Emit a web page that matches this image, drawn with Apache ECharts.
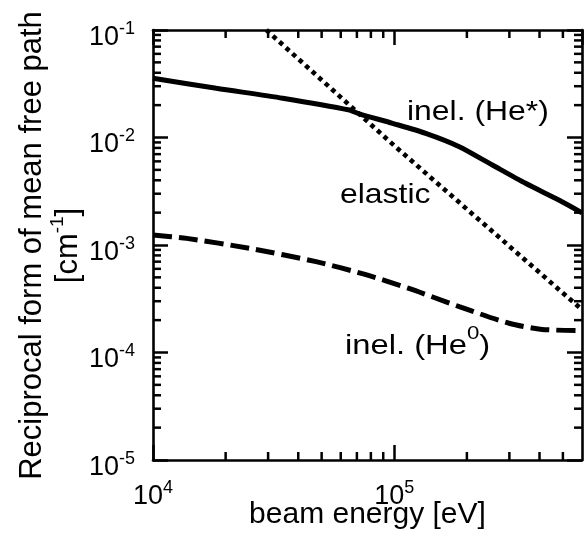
<!DOCTYPE html>
<html><head><meta charset="utf-8">
<script src="https://cdn.jsdelivr.net/npm/echarts@6/dist/echarts.min.js"></script>
<style>html,body{margin:0;padding:0;background:#fff}#c{width:586px;height:540px}</style>
</head><body><div id="c"></div>
<script>
// ---- data ----
const inelHeStarE = [1e4, 1.83e4, 3.45e4, 6.52e4, 7.16e4, 9.84e4, 1.35e5, 1.86e5, 2.55e5, 3.5e5, 4.81e5, 6e5];
const inelHeStarV = [0.0356, 0.0287, 0.0232, 0.0180, 0.0166, 0.01355, 0.01094, 0.00822, 0.00555, 0.00375, 0.00262, 0.00199];
const elasticE = [2.95e4, 1e5, 6e5];
const elasticV = [0.1, 0.0084, 2.5e-4];
const inelHe0E = [1e4, 1.38e4, 2.52e4, 4.74e4, 7.5e4, 1.15e5, 1.86e5, 2.99e5, 4.1e5, 6e5];
const inelHe0V = [1.24e-3, 1.153e-3, 9.3e-4, 7.0e-4, 5.35e-4, 3.95e-4, 2.67e-4, 1.87e-4, 1.64e-4, 1.6e-4];
const xMin = 1e4, xMax = 6e5, yMin = 1e-5, yMax = 1e-1;
const xMinorTicks = [2e4,3e4,4e4,5e4,6e4,7e4,8e4,9e4,2e5,3e5,4e5,5e5];
const yMinorTicks = [];
[1e-5,1e-4,1e-3,1e-2].forEach(d => { for (let k = 2; k <= 9; k++) yMinorTicks.push(k*d); });
const labelInelStar = 'inel. (He*)';
const labelElastic = 'elastic';
const labelInel0 = ['inel. (He', '0', ')'];
const xTitle = 'beam energy [eV]';
const yTitle = ['Reciprocal form of mean free path', '[cm', '-1', ']'];

// ---- chart ----
const FONT = '"Liberation Sans", Arial, Helvetica, sans-serif';
const zip = (a, b) => a.map((v, i) => [v, b[i]]);
function supLabel(v) {
  const l = Math.log10(v), e = Math.round(l);
  if (Math.abs(l - e) > 1e-6) return '';
  return '{b|10}{s|' + e + '}';
}
const tickRich = {
  b: {fontSize: 27, lineHeight: 31, verticalAlign: 'bottom', fontFamily: FONT, color: '#000'},
  s: {fontSize: 18, lineHeight: 18, verticalAlign: 'top', fontFamily: FONT, color: '#000'}
};
const MAJOR = 15, MINOR = 8, TW = 2.5;
function axisBase(extra) {
  return Object.assign({
    type: 'log', logBase: 10,
    axisLine: {show: true, onZero: false, lineStyle: {color: '#000', width: 2.6}},
    axisTick: {show: true, inside: true, length: MAJOR, lineStyle: {color: '#000', width: TW}},
    splitLine: {show: false}, minorTick: {show: false}, minorSplitLine: {show: false},
    nameMoveOverlap: false
  }, extra);
}
function minorSeries(axis, values) {
  return {
    type: 'custom', silent: true, clip: false, z: 5, xAxisIndex: 0, yAxisIndex: 0,
    data: values.map(v => axis === 'x' ? [v, 1e-3] : [1e5, v]),
    renderItem(params, api) {
      const cs = params.coordSys;
      const p = api.coord([api.value(0), api.value(1)]);
      const style = {stroke: '#000', lineWidth: TW};
      if (axis === 'x') {
        const yb = cs.y + cs.height, yt = cs.y;
        return {type: 'group', children: [
          {type: 'line', shape: {x1: p[0], y1: yb, x2: p[0], y2: yb - MINOR}, style},
          {type: 'line', shape: {x1: p[0], y1: yt, x2: p[0], y2: yt + MINOR}, style}
        ]};
      }
      const xl = cs.x, xr = cs.x + cs.width;
      return {type: 'group', children: [
        {type: 'line', shape: {x1: xl, y1: p[1], x2: xl + MINOR, y2: p[1]}, style},
        {type: 'line', shape: {x1: xr, y1: p[1], x2: xr - MINOR, y2: p[1]}, style}
      ]};
    }
  };
}
const chart = echarts.init(document.getElementById('c'), null, {renderer: 'canvas'});
chart.setOption({
  animation: false,
  backgroundColor: '#fff',
  grid: {left: 153, right: 4, top: 30, bottom: 80, containLabel: false, outerBoundsMode: 'none'},
  xAxis: [
    axisBase({position: 'bottom', min: xMin, max: xMax,
      axisLabel: {show: true, margin: 19, formatter: supLabel, rich: tickRich, showMaxLabel: false},
      name: xTitle, nameLocation: 'middle', nameGap: 40,
      nameTextStyle: {fontSize: 30, fontFamily: FONT, color: '#000', lineHeight: 30}}),
    axisBase({position: 'top', min: xMin, max: xMax, axisLabel: {show: false}})
  ],
  yAxis: [
    axisBase({position: 'left', min: yMin, max: yMax,
      axisLabel: {show: true, margin: 18, formatter: supLabel, rich: tickRich, padding: [11, 0, 0, 0]}}),
    axisBase({position: 'right', min: yMin, max: yMax, axisLabel: {show: false}})
  ],
  series: [
    {type: 'line', name: 'inel. (He*)', data: zip(inelHeStarE, inelHeStarV), showSymbol: false, symbol: 'none',
      smooth: 0.25, lineStyle: {color: '#000', width: 5}, z: 3},
    {type: 'line', name: 'elastic', data: zip(elasticE, elasticV), showSymbol: false, symbol: 'none',
      lineStyle: {color: '#000', width: 4.6, type: [4.5, 4.3]}, z: 3},
    {type: 'line', name: 'inel. (He0)', data: zip(inelHe0E, inelHe0V), showSymbol: false, symbol: 'none',
      smooth: 0.25, lineStyle: {color: '#000', width: 5, type: [19, 7]}, z: 3},
    minorSeries('x', xMinorTicks),
    minorSeries('y', yMinorTicks)
  ],
  graphic: [
    {type: 'text', x: 407, y: 112, scaleX: 1.14, z: 10, style: {text: labelInelStar, font: '28px ' + FONT, fill: '#000',
      textAlign: 'left', textVerticalAlign: 'middle'}},
    {type: 'text', x: 340, y: 195, scaleX: 1.14, z: 10, style: {text: labelElastic, font: '28px ' + FONT, fill: '#000',
      textAlign: 'left', textVerticalAlign: 'middle'}},
    {type: 'text', x: 345, y: 342, scaleX: 1.17, z: 10, style: {
      text: '{a|' + labelInel0[0] + '}{s|' + labelInel0[1] + '}{a|' + labelInel0[2] + '}',
      rich: {a: {fontSize: 28, lineHeight: 36, verticalAlign: 'bottom', fontFamily: FONT, fill: '#000'},
             s: {fontSize: 19, lineHeight: 19, verticalAlign: 'top', fontFamily: FONT, fill: '#000'}},
      textAlign: 'left', textVerticalAlign: 'middle'}},
    {type: 'text', x: 48, y: 245.5, rotation: Math.PI / 2, z: 10, style: {
      text: '{a|' + yTitle[0] + '}\n{a|' + yTitle[1] + '}{s|' + yTitle[2] + '}{a|' + yTitle[3] + '}',
      rich: {a: {fontSize: 31, lineHeight: 36, verticalAlign: 'bottom', fontFamily: FONT, fill: '#000'},
             s: {fontSize: 19, lineHeight: 19, verticalAlign: 'top', fontFamily: FONT, fill: '#000'}},
      textAlign: 'center', textVerticalAlign: 'middle'}}
  ]
});
</script></body></html>
